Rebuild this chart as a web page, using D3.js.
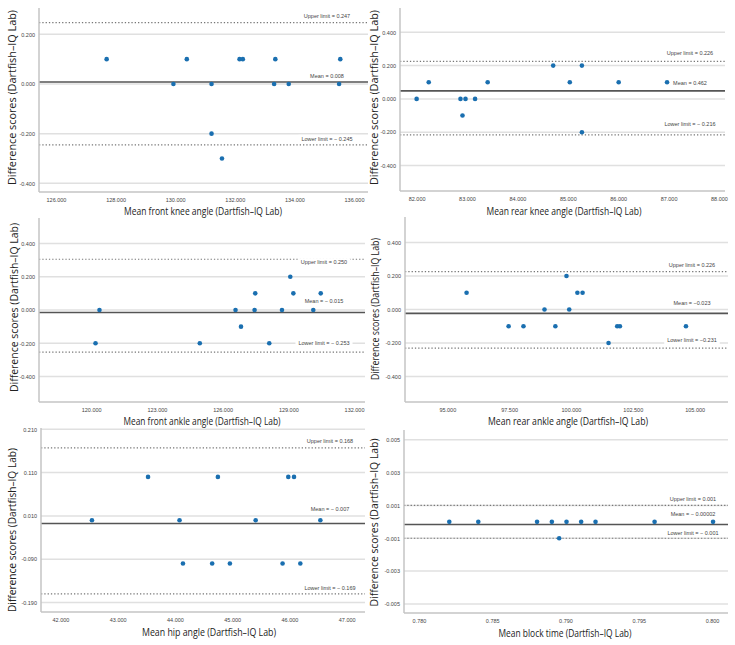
<!DOCTYPE html>
<html>
<head>
<meta charset="utf-8">
<script src="https://cdn.jsdelivr.net/npm/d3@7"></script>
<style>
  body { margin: 0; background: #fff; }
  svg { display: block; }
  .tick text { font-family: "Liberation Sans", Arial, sans-serif; font-size: 5.5px; fill: #444; }
  .title { font-family: "Open Sans", sans-serif; font-size: 10.5px; fill: #222; }
  .line-label { font-family: "Liberation Sans", Arial, sans-serif; font-size: 5.5px; fill: #444; }
</style>
</head>
<body>
<svg width="735" height="645"></svg>
<script>
// ---- data ----
const titleY = "Difference scores (Dartfish\u2013IQ Lab)";

const frontKneeMean = [127.70, 129.94, 130.39, 131.22, 131.22, 131.57, 132.16, 132.27, 133.32, 133.36, 133.81, 135.50, 135.54];
const frontKneeDiff = [0.1, 0, 0.1, 0, -0.2, -0.3, 0.1, 0.1, 0, 0.1, 0, 0, 0.1];
const frontKneeXTicks = [126, 128, 130, 132, 134, 136];
const frontKneeYTicks = [0.2, 0, -0.2, -0.4];
const frontKneeLines = [0.247, 0.008, -0.245];
const frontKneeLabels = ["Upper limit = 0.247", "Mean = 0.008", "Lower limit = \u2212 0.245"];

const rearKneeMean = [82.0, 82.24, 82.87, 82.91, 82.97, 83.16, 83.41, 84.71, 85.04, 85.28, 85.28, 86.01, 86.97];
const rearKneeDiff = [0, 0.1, 0, -0.1, 0, 0, 0.1, 0.2, 0.1, 0.2, -0.2, 0.1, 0.1];
const rearKneeXTicks = [82, 83, 84, 85, 86, 87, 88];
const rearKneeYTicks = [0.4, 0.2, 0, -0.2, -0.4];
const rearKneeLines = [0.226, 0.048, -0.216];
const rearKneeLabels = ["Upper limit = 0.226", "Mean = 0.462", "Lower limit = \u2212 0.216"];

const frontAnkleMean = [120.20, 120.38, 124.96, 126.59, 126.84, 127.46, 127.49, 128.13, 128.71, 129.09, 129.23, 130.14, 130.48];
const frontAnkleDiff = [-0.2, 0, -0.2, 0, -0.1, 0, 0.1, -0.2, 0, 0.2, 0.1, 0, 0.1];
const frontAnkleXTicks = [120, 123, 126, 129, 132];
const frontAnkleYTicks = [0.4, 0.2, 0, -0.2, -0.4];
const frontAnkleLines = [0.305, -0.015, -0.253];
const frontAnkleLabels = ["Upper limit = 0.250", "Mean = \u2212 0.015", "Lower limit = \u2212 0.253"];

const rearAnkleMean = [95.78, 97.48, 98.08, 98.93, 99.37, 99.82, 99.93, 100.26, 100.47, 101.52, 101.87, 101.98, 104.65];
const rearAnkleDiff = [0.1, -0.1, -0.1, 0, -0.1, 0.2, 0, 0.1, 0.1, -0.2, -0.1, -0.1, -0.1];
const rearAnkleXTicks = [95, 97.5, 100, 102.5, 105];
const rearAnkleYTicks = [0.4, 0.2, 0, -0.2, -0.4];
const rearAnkleLines = [0.226, -0.023, -0.231];
const rearAnkleLabels = ["Upper limit = 0.226", "Mean = \u22120.023", "Lower limit = \u22120.231"];

const hipMean = [42.55, 43.53, 44.08, 44.14, 44.65, 44.75, 44.96, 45.41, 45.88, 45.98, 46.08, 46.19, 46.54];
const hipDiff = [0, 0.1, 0, -0.1, -0.1, 0.1, -0.1, 0, -0.1, 0.1, 0.1, -0.1, 0];
const hipXTicks = [42, 43, 44, 45, 46, 47];
const hipYTicks = [0.21, 0.11, 0.01, -0.09, -0.19];
const hipLines = [0.167, -0.0077, -0.170];
const hipLabels = ["Upper limit = 0.168", "Mean = \u2212 0.007", "Lower limit = \u2212 0.169"];

const blockMean = [0.78207, 0.78405, 0.78806, 0.78907, 0.78957, 0.79007, 0.79107, 0.79205, 0.79608, 0.80007];
const blockDiff = [0, 0, 0, 0, -0.001, 0, 0, 0, 0, 0];
const blockXTicks = [0.780, 0.785, 0.790, 0.795, 0.800];
const blockYTicks = [0.005, 0.003, 0.001, -0.001, -0.003, -0.005];
const blockLines = [0.001, -0.00016, -0.001];
const blockLabels = ["Upper limit = 0.001", "Mean = \u2212 0.00002", "Lower limit = \u2212 0.001"];

// ---- layout ----
const panels = [
  { xs: frontKneeMean, ys: frontKneeDiff, xt: frontKneeXTicks, yt: frontKneeYTicks, lines: frontKneeLines, labels: frontKneeLabels,
    xTitle: "Mean front knee angle (Dartfish\u2013IQ Lab)",
    box: [39, 8, 368, 192], xDom: [125.43, 136.47], yDom: [-0.435, 0.306],
    labelX: 327, labelDy: [-7, -6, -6], xt_pos: [203, 215, 158], yt_pos: [12, 97.5, 175] },
  { xs: rearKneeMean, ys: rearKneeDiff, xt: rearKneeXTicks, yt: rearKneeYTicks, lines: rearKneeLines, labels: rearKneeLabels,
    xTitle: "Mean rear knee angle (Dartfish\u2013IQ Lab)",
    box: [400, 8, 725, 191], xDom: [81.67, 88.12], yDom: [-0.553, 0.546],
    labelX: 690, labelDy: [-8, -8, -11], xt_pos: [564, 215, 155], yt_pos: [374, 97.5, 175] },
  { xs: frontAnkleMean, ys: frontAnkleDiff, xt: frontAnkleXTicks, yt: frontAnkleYTicks, lines: frontAnkleLines, labels: frontAnkleLabels,
    xTitle: "Mean front ankle angle (Dartfish\u2013IQ Lab)",
    box: [39, 218, 365, 402], xDom: [117.62, 132.5], yDom: [-0.553, 0.553],
    labelX: 324, labelDy: [3, -11, -9], xt_pos: [202, 425, 157], yt_pos: [14, 307.5, 169] },
  { xs: rearAnkleMean, ys: rearAnkleDiff, xt: rearAnkleXTicks, yt: rearAnkleYTicks, lines: rearAnkleLines, labels: rearAnkleLabels,
    xTitle: "Mean rear ankle angle (Dartfish\u2013IQ Lab)",
    box: [405, 217, 728, 402], xDom: [93.29, 106.35], yDom: [-0.553, 0.553],
    labelX: 692, labelDy: [-7, -10, -8], xt_pos: [568, 425, 160], yt_pos: [375, 309, 142] },
  { xs: hipMean, ys: hipDiff, xt: hipXTicks, yt: hipYTicks, lines: hipLines, labels: hipLabels,
    xTitle: "Mean hip angle (Dartfish\u2013IQ Lab)",
    box: [41, 428, 365, 612], xDom: [41.66, 47.32], yDom: [-0.212, 0.213],
    labelX: 330, labelDy: [-7, -14, -6], xt_pos: [209, 636, 134], yt_pos: [12, 530, 164] },
  { xs: blockMean, ys: blockDiff, xt: blockXTicks, yt: blockYTicks, lines: blockLines, labels: blockLabels,
    xTitle: "Mean block time (Dartfish\u2013IQ Lab)",
    box: [404, 430, 728, 613], xDom: [0.77898, 0.80109], yDom: [-0.00555, 0.00559],
    labelX: 693, labelDy: [-6, -10, -5], xt_pos: [565, 637, 133], yt_pos: [374, 522.5, 168] }
];

const svg = d3.select("svg");

panels.forEach(p => {
  const [x0, y0, x1, y1] = p.box;
  const x = d3.scaleLinear().domain(p.xDom).range([x0, x1]);
  const y = d3.scaleLinear().domain(p.yDom).range([y1, y0]);
  const g = svg.append("g");

  // horizontal grid at y ticks
  g.append("g")
    .selectAll("line")
    .data(p.yt)
    .join("line")
    .attr("x1", x0).attr("x2", x1)
    .attr("y1", d => y(d)).attr("y2", d => y(d))
    .attr("stroke", "#e0e0e0")
    .attr("stroke-width", 1.5);

  // limits (dotted) and mean (solid)
  g.append("g")
    .selectAll("line")
    .data(p.lines)
    .join("line")
    .attr("x1", x0).attr("x2", x1)
    .attr("y1", d => y(d)).attr("y2", d => y(d))
    .attr("stroke", (d, i) => i === 1 ? "#555" : "#777")
    .attr("stroke-width", (d, i) => i === 1 ? 1.6 : 1.2)
    .attr("stroke-dasharray", (d, i) => i === 1 ? null : "1.3,2");

  // labels with white backdrop
  const lab = g.append("g")
    .selectAll("g")
    .data(p.lines)
    .join("g")
    .attr("transform", (d, i) => `translate(${p.labelX},${y(d) + p.labelDy[i]})`);
  lab.append("text")
    .attr("class", "line-label")
    .attr("text-anchor", "middle")
    .attr("dy", "0.35em")
    .text((d, i) => p.labels[i]);
  lab.insert("rect", "text")
    .each(function() {
      const bb = this.nextSibling.getBBox();
      d3.select(this)
        .attr("x", bb.x - 3).attr("y", bb.y - 1)
        .attr("width", bb.width + 6).attr("height", bb.height + 2)
        .attr("fill", "#fff");
    });

  // axes
  const ax = g.append("g")
    .attr("transform", `translate(0,${y1})`)
    .call(d3.axisBottom(x).tickValues(p.xt).tickSize(0).tickPadding(6)
      .tickFormat(d => d.toFixed(3)));
  const ay = g.append("g")
    .attr("transform", `translate(${x0},0)`)
    .call(d3.axisLeft(y).tickValues(p.yt).tickSize(0).tickPadding(4)
      .tickFormat(d => d.toFixed(3)));
  [ax, ay].forEach(a => a.select(".domain").attr("stroke", "#c4c4c4").attr("stroke-width", 1.5));
  ay.select(".domain").attr("d", `M0,${y0}V${y1}`);
  ax.select(".domain").attr("d", `M${x0},0H${x1}`);

  // points
  g.append("g")
    .selectAll("circle")
    .data(p.xs.map((v, i) => [v, p.ys[i]]))
    .join("circle")
    .attr("cx", d => x(d[0]))
    .attr("cy", d => y(d[1]))
    .attr("r", 2.3)
    .attr("fill", "#1a6fb0");

  // titles
  g.append("text")
    .attr("class", "title")
    .attr("x", p.xt_pos[0]).attr("y", p.xt_pos[1])
    .attr("text-anchor", "middle")
    .attr("textLength", p.xt_pos[2])
    .attr("lengthAdjust", "spacingAndGlyphs")
    .text(p.xTitle);
  g.append("text")
    .attr("class", "title")
    .attr("transform", `translate(${p.yt_pos[0]},${p.yt_pos[1]}) rotate(-90)`)
    .attr("text-anchor", "middle")
    .attr("dy", "0.35em")
    .attr("textLength", p.yt_pos[2])
    .attr("lengthAdjust", "spacingAndGlyphs")
    .text(titleY);
});
</script>
</body>
</html>
